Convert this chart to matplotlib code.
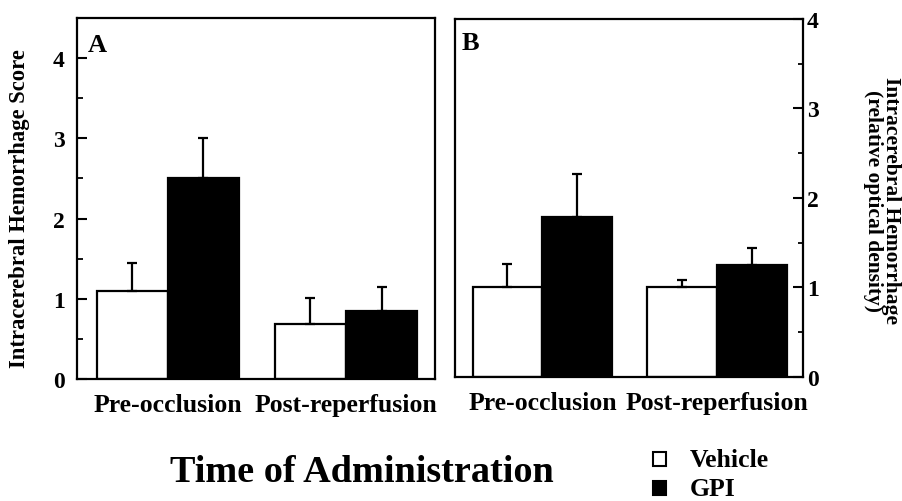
import numpy as np
import matplotlib.pyplot as plt
from matplotlib.patches import Rectangle

plt.rcParams['font.family'] = ['Liberation Serif', 'DejaVu Serif']
plt.rcParams['font.weight'] = 'bold'

groups = ['Pre-occlusion', 'Post-reperfusion']
series = ['Vehicle', 'GPI']

# panel A: hemorrhage score
score_vehicle = [1.10, 0.68]
score_vehicle_err = [0.35, 0.33]
score_gpi = [2.51, 0.85]
score_gpi_err = [0.49, 0.30]

# panel B: relative optical density
od_vehicle = [1.00, 1.00]
od_vehicle_err = [0.26, 0.08]
od_gpi = [1.79, 1.25]
od_gpi_err = [0.48, 0.19]

fig = plt.figure(figsize=(9.03, 5.02), dpi=100)
axA = fig.add_axes([0.0853, 0.243, 0.3965, 0.719])
axB = fig.add_axes([0.5039, 0.2476, 0.385, 0.7126])

w = 0.4
x = np.arange(len(groups))


def draw(ax, veh, veh_err, gpi, gpi_err):
    ekw = dict(elinewidth=1.6, capsize=3.5, capthick=1.6, ecolor='black')
    ax.bar(x - w / 2, veh, w, color='white', edgecolor='black', linewidth=1.6,
           yerr=[np.zeros(len(veh)), veh_err], error_kw=ekw, zorder=2)
    ax.bar(x + w / 2, gpi, w, color='black', edgecolor='black', linewidth=1.6,
           yerr=[np.zeros(len(gpi)), gpi_err], error_kw=ekw, zorder=2)
    ax.set_xticks(x)
    ax.set_xticklabels(groups, fontsize=18.5, fontweight='bold')
    ax.tick_params(axis='x', length=0, pad=10)
    for s in ax.spines.values():
        s.set_linewidth(1.6)


draw(axA, score_vehicle, score_vehicle_err, score_gpi, score_gpi_err)
axA.set_xlim(-0.51, 1.50)
axA.set_ylim(0, 4.5)
axA.set_yticks([0, 1, 2, 3, 4])
axA.set_yticks(np.arange(0.5, 4.5, 1.0), minor=True)
axA.tick_params(axis='y', which='major', direction='in', length=7, width=1.5,
                labelsize=17, pad=9)
axA.tick_params(axis='y', which='minor', direction='in', length=4, width=1.3)
axA.text(0.03, 0.96, 'A', transform=axA.transAxes, fontsize=19,
         fontweight='bold', va='top')
fig.text(0.022, 0.585, 'Intracerebral Hemorrhage Score', fontsize=16.3,
         fontweight='bold', rotation=90, ha='center', va='center')

draw(axB, od_vehicle, od_vehicle_err, od_gpi, od_gpi_err)
axB.set_xlim(-0.50, 1.488)
axB.set_ylim(0, 4)
axB.yaxis.tick_right()
axB.set_yticks([0, 1, 2, 3, 4])
axB.set_yticks(np.arange(0.5, 4.0, 1.0), minor=True)
axB.tick_params(axis='y', which='major', direction='in', length=7, width=1.5,
                labelsize=17, pad=3)
axB.tick_params(axis='y', which='minor', direction='in', length=3.5, width=1.3)
axB.text(0.02, 0.965, 'B', transform=axB.transAxes, fontsize=19,
         fontweight='bold', va='top')
fig.text(0.977, 0.6, 'Intracerebral Hemorrhage\n(relative optical density)',
         fontsize=15.5, fontweight='bold', rotation=270, ha='center',
         va='center', linespacing=0.85, multialignment='center')

fig.text(0.401, 0.04, 'Time of Administration', fontsize=27.5,
         fontweight='bold', ha='center', va='baseline')

# legend
for i, (lab, fc) in enumerate(zip(series, ['white', 'black'])):
    base = 0.070 - i * 0.058
    fig.patches.append(Rectangle((0.7235, base), 0.0145, 0.027,
                                 transform=fig.transFigure, facecolor=fc,
                                 edgecolor='black', linewidth=1.5))
    fig.text(0.764, base, lab, fontsize=18.5, fontweight='bold',
             va='baseline')

fig.savefig('out.png', dpi=100)
